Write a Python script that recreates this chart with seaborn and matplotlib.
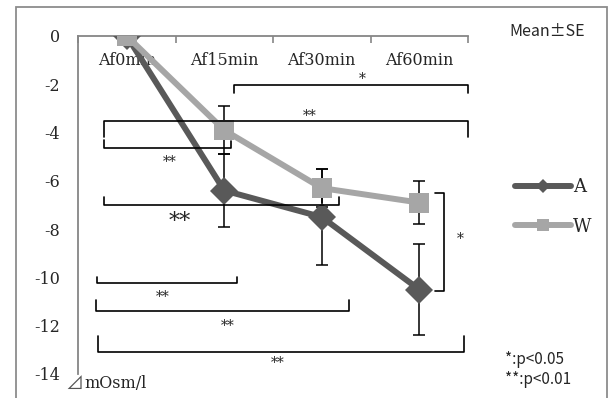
import numpy as np
import pandas as pd
import matplotlib
matplotlib.use("Agg")
import matplotlib.pyplot as plt
from matplotlib.lines import Line2D
from matplotlib.patches import Rectangle
import seaborn as sns

# data (mOsm/l change, mean +- SE)
TIMES = ["Af0min", "Af15min", "Af30min", "Af60min"]
A_MEAN = [0.0, -6.4, -7.5, -10.5]
A_SE = [0.0, 1.5, 2.0, 1.9]
W_MEAN = [0.0, -3.9, -6.3, -6.9]
W_SE = [0.0, 1.0, 0.8, 0.9]

COLORS = {"A": "#595959", "W": "#a6a6a6"}
SERIF = ["DejaVu Serif", "DejaVu Sans"]
SANS = ["Noto Sans CJK JP", "DejaVu Sans"]

# significance brackets: (x1, x2, y line, tick end left, tick end right, label, lx, ly, size)
BRACKETS = [
    (1.10, 3.50, -2.03, -2.36, -2.36, "*", 2.42, -1.80, 10),
    (-0.23, 3.50, -3.50, -4.18, -4.18, "**", 1.88, -3.30, 10),
    (-0.23, 1.07, -4.63, -4.30, -4.35, "**", 0.44, -5.20, 10),
    (-0.23, 2.18, -7.00, -6.67, -6.65, "**", 0.54, -7.70, 16),
    (-0.31, 1.13, -10.25, -9.97, -9.97, "**", 0.37, -10.80, 10),
    (-0.32, 2.28, -11.40, -10.95, -10.95, "**", 1.04, -12.00, 10),
    (-0.29, 3.46, -13.10, -12.43, -12.43, "**", 1.55, -13.55, 10),
]

df = pd.concat([
    pd.DataFrame({"time": TIMES, "value": A_MEAN, "se": A_SE, "group": "A"}),
    pd.DataFrame({"time": TIMES, "value": W_MEAN, "se": W_SE, "group": "W"}),
])

sns.set_style("white")
plt.rcParams["axes.unicode_minus"] = False
plt.rcParams["font.family"] = SERIF

fig = plt.figure(figsize=(6.11, 3.98), dpi=100)
ax = fig.add_axes([78 / 611, 24 / 398, 390 / 611, 338 / 398])

# error bars first so markers sit on top
for g, mean, se in [("A", A_MEAN, A_SE), ("W", W_MEAN, W_SE)]:
    ax.errorbar(np.arange(len(TIMES)), mean, yerr=se, fmt="none", ecolor="black",
                elinewidth=1.1, capsize=4.5, capthick=1.1, zorder=2)

sns.lineplot(data=df, x="time", y="value", hue="group", style="group",
             palette=COLORS, markers={"A": "D", "W": "s"}, dashes=False,
             markersize=14, linewidth=4.3, markeredgewidth=0, sort=False,
             legend=False, ax=ax, zorder=3)

ax.set_xlim(-0.5, 3.5)
ax.set_ylim(-14, 0)
ax.set_xlabel("")
ax.set_ylabel("")

axis_gray = "#868686"
for side in ["right", "bottom"]:
    ax.spines[side].set_visible(False)
for side in ["left", "top"]:
    ax.spines[side].set_color(axis_gray)
    ax.spines[side].set_linewidth(1.3)

ax.set_yticks(np.arange(-14, 1, 2))
ax.set_yticklabels([str(v) for v in range(-14, 1, 2)])
ax.tick_params(axis="y", direction="out", length=5, width=1.2, color=axis_gray,
               labelsize=11.5, pad=8)

ax.xaxis.set_ticks_position("top")
ax.set_xticks(range(len(TIMES)))
ax.set_xticklabels(TIMES)
ax.set_xticks(np.arange(-0.5, 3.6, 1), minor=True)
ax.tick_params(axis="x", which="major", length=0, labeltop=True, labelbottom=False,
               labelsize=11.5, pad=-24)
ax.tick_params(axis="x", which="minor", direction="in", length=5, width=1.2,
               color=axis_gray)

for x1, x2, y, t1, t2, lab, lx, ly, size in BRACKETS:
    ax.plot([x1, x1, x2, x2], [t1, y, y, t2], color="black", lw=1.2,
            clip_on=False, zorder=4)
    ax.text(lx, ly, lab, ha="center", va="center", fontsize=size, family=SERIF)

# vertical bracket between A and W at Af60min
ax.plot([3.16, 3.25, 3.25, 3.16], [-6.5, -6.5, -10.56, -10.56], color="black",
        lw=1.2, clip_on=False, zorder=4)
ax.text(3.42, -8.4, "*", ha="center", va="center", fontsize=10, family=SERIF)

handles = [
    Line2D([], [], color=COLORS["A"], lw=4.3, marker="D", markersize=7,
           markeredgewidth=0, solid_capstyle="round"),
    Line2D([], [], color=COLORS["W"], lw=4.3, marker="s", markersize=9,
           markeredgewidth=0, solid_capstyle="round"),
]
ax.legend(handles, ["A", "W"], loc="center left", bbox_to_anchor=(506 / 611, 0.48),
          bbox_transform=fig.transFigure, frameon=False, handlelength=3.1,
          handletextpad=0.1, labelspacing=1.2, borderpad=0,
          prop={"family": SERIF, "size": 13})

fig.text(509 / 611, 1 - 31 / 398, "Mean\u00b1SE", ha="left", va="center",
         fontsize=11.5, family=SANS)
fig.text(505 / 611, 1 - 359 / 398, "*:p<0.05", ha="left", va="center",
         fontsize=11, family=SANS)
fig.text(505 / 611, 1 - 380 / 398, "**:p<0.01", ha="left", va="center",
         fontsize=11, family=SANS)
fig.text(65 / 611, 1 - 384 / 398, "\u22bf", ha="left", va="center",
         fontsize=13, family=["Noto Sans CJK JP", "DejaVu Sans"], color="#555555")
fig.text(84 / 611, 1 - 383 / 398, "mOsm/l", ha="left", va="center",
         fontsize=11.5, family=SERIF)

# outer chart border (bottom edge runs off the image)
fig.patches.append(Rectangle((16 / 611, -0.05), 591 / 611, 1.05 - 7 / 398,
                             transform=fig.transFigure, fill=False,
                             edgecolor="#8c8c8c", lw=1.3))

fig.savefig("out.png", dpi=100)
